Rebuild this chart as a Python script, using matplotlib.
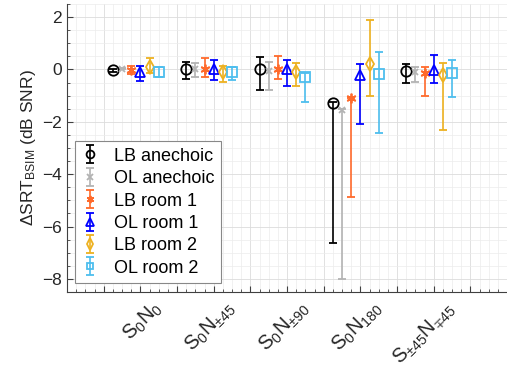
import numpy as np
import matplotlib
matplotlib.use('Agg')
import matplotlib.pyplot as plt
from matplotlib.ticker import MultipleLocator

plt.rcParams['font.family'] = ['Liberation Sans', 'DejaVu Sans']
plt.rcParams['mathtext.default'] = 'regular'

conditions = [r'$S_0N_0$', r'$S_0N_{\pm45}$', r'$S_0N_{\pm90}$', r'$S_0N_{180}$', r'$S_{\pm45}N_{\mp45}$']
series_names = ['LB anechoic', 'OL anechoic', 'LB room 1', 'OL room 1', 'LB room 2', 'OL room 2']

# mean, lower end, upper end of each bar (dB)
lb_anech = [-0.03, 0.0, 0.03, -1.28, -0.05]
lb_anech_lo = [-0.08, -0.36, -0.77, -6.64, -0.53]
lb_anech_hi = [0.03, 0.28, 0.48, -1.26, 0.2]

ol_anech = [0.03, 0.0, -0.05, -1.53, -0.08]
ol_anech_lo = [0.0, -0.3, -0.8, -8.0, -0.47]
ol_anech_hi = [0.06, 0.24, 0.27, -1.52, 0.08]

lb_room1 = [-0.03, 0.03, 0.03, -1.1, -0.15]
lb_room1_lo = [-0.17, -0.28, -0.36, -4.88, -1.0]
lb_room1_hi = [0.12, 0.42, 0.53, -1.08, 0.1]

ol_room1 = [-0.08, 0.0, 0.0, -0.2, -0.03]
ol_room1_lo = [-0.46, -0.42, -0.65, -2.1, -0.5]
ol_room1_hi = [0.12, 0.36, 0.38, 0.19, 0.57]

lb_room2 = [0.1, -0.1, -0.08, 0.19, -0.2]
lb_room2_lo = [-0.15, -0.48, -0.65, -1.03, -2.3]
lb_room2_hi = [0.42, 0.12, 0.25, 1.87, 0.23]

ol_room2 = [-0.08, -0.08, -0.27, -0.19, -0.15]
ol_room2_lo = [-0.3, -0.42, -1.26, -2.44, -1.07]
ol_room2_hi = [0.08, 0.11, -0.15, 0.65, 0.38]

means = [lb_anech, ol_anech, lb_room1, ol_room1, lb_room2, ol_room2]
lows = [lb_anech_lo, ol_anech_lo, lb_room1_lo, ol_room1_lo, lb_room2_lo, ol_room2_lo]
highs = [lb_anech_hi, ol_anech_hi, lb_room1_hi, ol_room1_hi, lb_room2_hi, ol_room2_hi]

colors = ['black', '#b3b3b3', '#ff6a2b', '#0000ff', '#edb120', '#4dbeee']
markers = ['o', 'x', (6, 2, 0), '^', 'd', 's']
msizes = [7.5, 5, 7, 7.5, 7.5, 6.5]

fig = plt.figure(figsize=(5.07, 3.71), dpi=100)
ax = fig.add_axes([67 / 507, 1 - 292 / 371, 440 / 507, 288 / 371])

group_x = 1.25 + 2 * np.arange(len(conditions))
for i in range(len(series_names)):
    m = np.array(means[i])
    lo = m - np.array(lows[i])
    hi = np.array(highs[i]) - m
    ax.errorbar(group_x + 0.25 * i, m, yerr=[lo, hi], marker=markers[i], linestyle='none',
                color=colors[i], mfc='none', ms=msizes[i], mew=1.3,
                elinewidth=1.2, capsize=3, capthick=1.2, label=series_names[i])

ax.set_xlim(0, 12)
ax.set_ylim(-8.5, 2.5)
ax.set_xticks(np.arange(1, 12))
ax.set_xticklabels([])
ax.xaxis.set_minor_locator(MultipleLocator(0.25))
ax.set_yticks([-8, -6, -4, -2, 0, 2])
ax.yaxis.set_minor_locator(MultipleLocator(0.5))
ax.tick_params(which='both', direction='in', colors='#404040', labelcolor='#262626', labelsize=12.5)
ax.tick_params(which='major', length=4)
ax.tick_params(which='minor', length=2)
ax.grid(True, which='major', color='#dcdcdc', lw=0.6)
ax.grid(True, which='minor', color='#ececec', lw=0.5)
ax.set_axisbelow(True)
for s in ['top', 'right']:
    ax.spines[s].set_visible(False)
for s in ['left', 'bottom']:
    ax.spines[s].set_color('#404040')

label_x = 2.3 + 2 * np.arange(len(conditions))
for lx, lab in zip(label_x, conditions):
    ax.text(lx, -0.02, lab, transform=ax.get_xaxis_transform(), rotation=45,
            ha='right', va='top', rotation_mode='anchor', fontsize=14.5, color='#262626')

ax.set_ylabel(r'$\Delta$SRT$_{BSIM}$ (dB SNR)', fontsize=12.5, color='#262626', labelpad=3)

leg = ax.legend(loc='lower left', bbox_to_anchor=(0.018, 0.031), borderaxespad=0,
                fontsize=13, fancybox=False, edgecolor='#888888', framealpha=1,
                handlelength=1.0, handletextpad=0.8, labelspacing=0.3, borderpad=0.35,
                markerscale=0.75)
leg.get_frame().set_linewidth(0.8)

fig.savefig('out.png', dpi=100)
